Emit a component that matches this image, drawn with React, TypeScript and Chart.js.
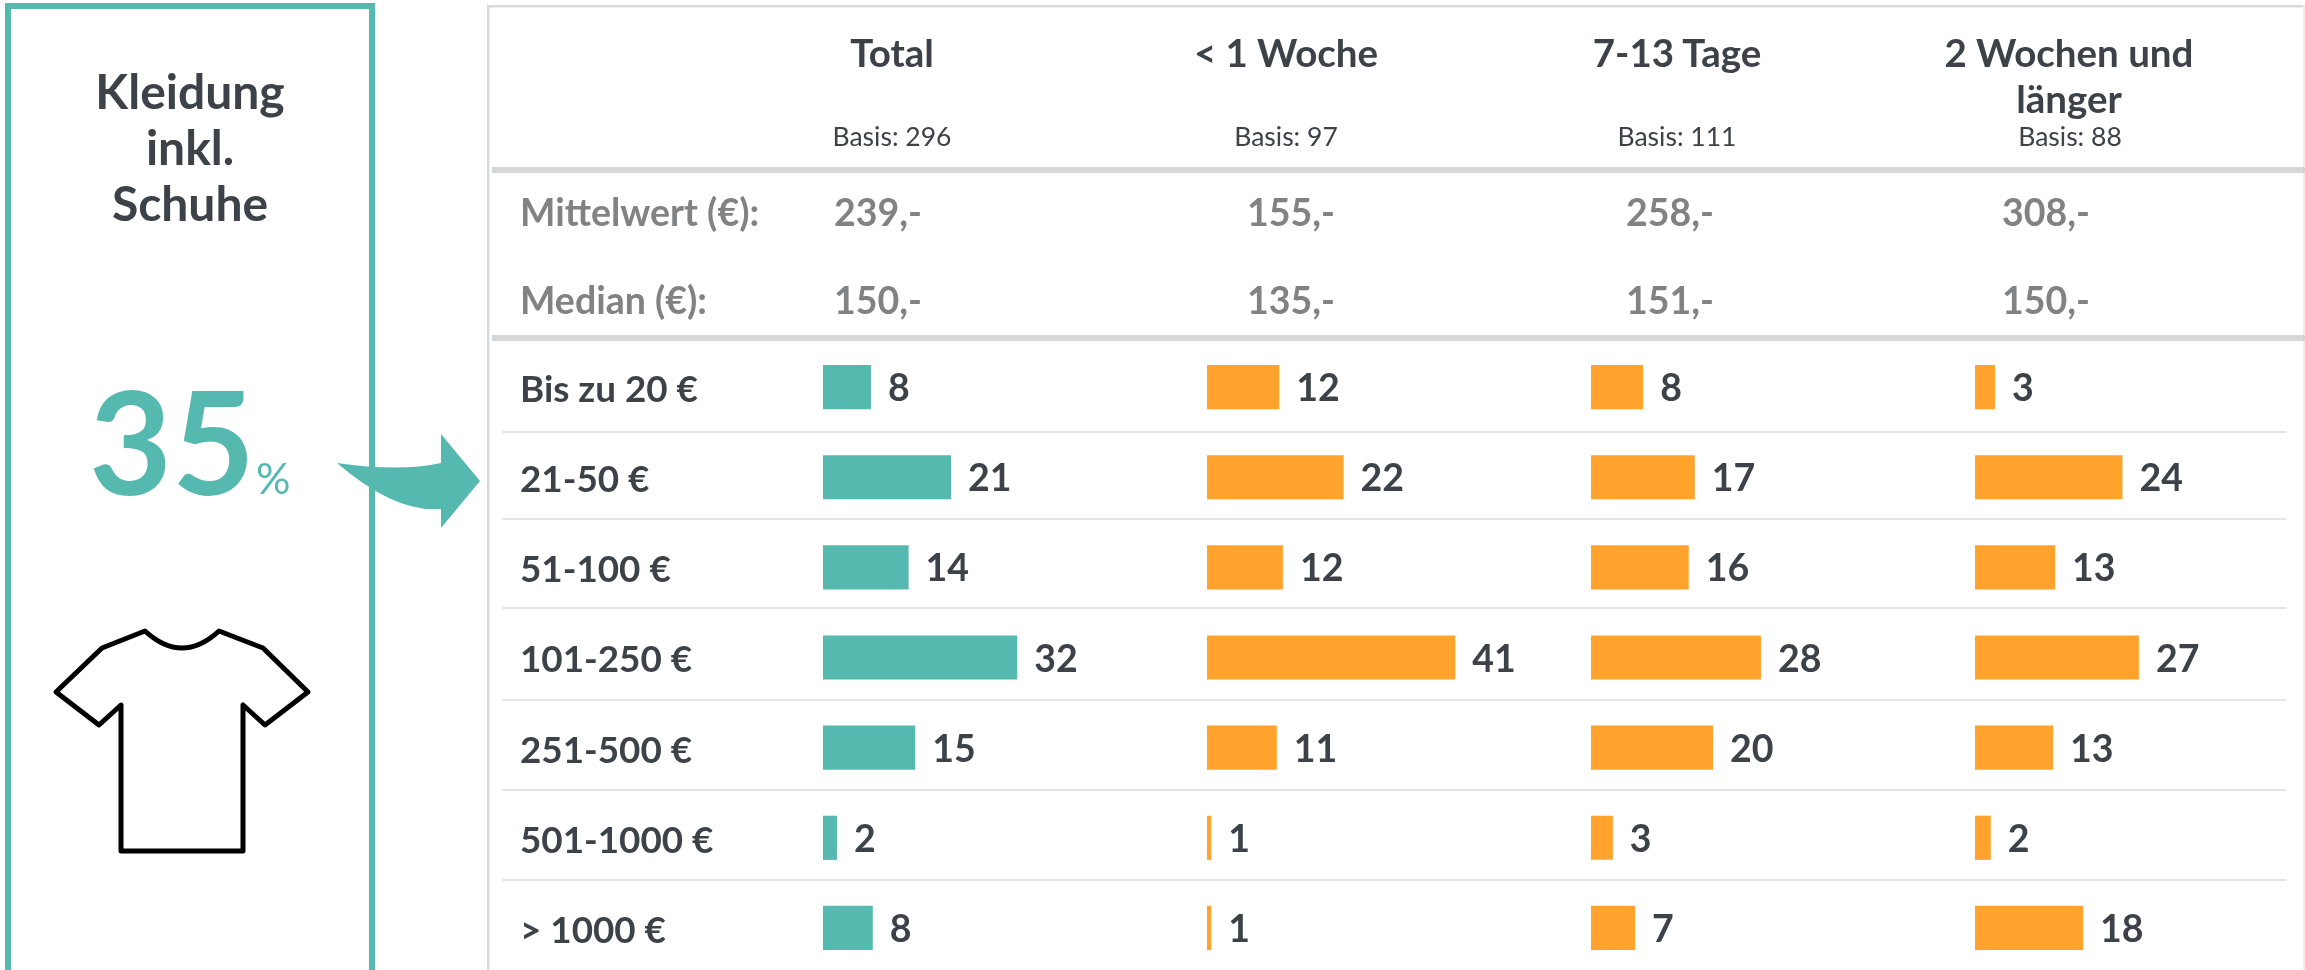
import React, { useEffect, useRef } from "react";
import { Chart, registerables } from "chart.js";

Chart.register(...registerables);

const categories = ["Bis zu 20 €", "21-50 €", "51-100 €", "101-250 €", "251-500 €", "501-1000 €", "> 1000 €"];
const totalValues = [7.9, 21.1, 14.1, 32, 15.2, 2.3, 8.2];
const under1Week = [11.9, 22.5, 12.5, 40.9, 11.5, 0.7, 0.7];
const days7to13 = [8.6, 17.1, 16.1, 28, 20.1, 3.6, 7.25];
const weeks2Plus = [3.3, 24.3, 13.2, 27, 12.85, 2.6, 17.8];
const displayLabels = [
  [8, 21, 14, 32, 15, 2, 8],
  [12, 22, 12, 41, 11, 1, 1],
  [8, 17, 16, 28, 20, 3, 7],
  [3, 24, 13, 27, 13, 2, 18],
];
const columnHeads = ["Total", "< 1 Woche", "7-13 Tage", "2 Wochen und länger"];
const basisLabels = ["Basis: 296", "Basis: 97", "Basis: 111", "Basis: 88"];
const meanLabels = ["239,-", "155,-", "258,-", "308,-"];
const medianLabels = ["150,-", "135,-", "151,-", "150,-"];

const TEAL = "#56b9b0";
const ORANGE = "#ffa32d";
const DARK = "#3c4248";
const GREY = "#808284";
const FONT = "Lato, sans-serif";

const AREA_LEFT = 823;
const AREA_WIDTH = 1482;
const COL_STEP = 384;
const PX_PER_UNIT = 6.07;
const LABEL_LEFT = 520;
const seriesList = [totalValues, under1Week, days7to13, weeks2Plus];

const axisFor = (i: number) => {
  const min = -(i * COL_STEP) / PX_PER_UNIT;
  return { type: "linear", display: false, min, max: min + AREA_WIDTH / PX_PER_UNIT, grid: { display: false } };
};

const decor = {
  id: "decor",
  beforeDraw(chart: any) {
    const c = chart.ctx;
    c.save();
    c.fillStyle = "#fff";
    c.fillRect(0, 0, 2305, 1000);
    // right panel frame and rules
    c.fillStyle = "#d8dbde";
    c.fillRect(487, 5, 2.5, 995);
    c.fillRect(487, 5, 1818, 2.5);
    c.fillStyle = "#eceded";
    c.fillRect(2303, 5, 2, 995);
    c.fillStyle = "#d4d7d9";
    c.fillRect(492, 167, 1813, 6);
    c.fillRect(492, 335, 1813, 6);
    c.fillStyle = "#e4e5e6";
    [431, 518, 607, 699, 789, 879].forEach((y) => c.fillRect(502, y, 1784, 2));
    // left box
    c.strokeStyle = TEAL;
    c.lineWidth = 6;
    c.strokeRect(8, 6, 364, 1000);
    // arrow
    c.fillStyle = TEAL;
    c.beginPath();
    c.moveTo(337, 463);
    c.quadraticCurveTo(400, 472, 441, 463);
    c.lineTo(441, 434);
    c.lineTo(480, 481);
    c.lineTo(441, 528);
    c.lineTo(441, 509);
    c.quadraticCurveTo(395, 513, 337, 463);
    c.fill();
    // T-shirt
    c.strokeStyle = "#000";
    c.lineWidth = 5;
    c.lineJoin = "round";
    c.beginPath();
    c.moveTo(145, 631);
    c.quadraticCurveTo(182, 665, 219, 631);
    c.lineTo(263, 648);
    c.lineTo(308, 692);
    c.lineTo(265, 725);
    c.lineTo(243, 705);
    c.lineTo(243, 851);
    c.lineTo(121, 851);
    c.lineTo(121, 705);
    c.lineTo(99, 725);
    c.lineTo(56, 692);
    c.lineTo(102, 648);
    c.closePath();
    c.stroke();
    c.restore();
  },
};

const valueLabels = {
  id: "valueLabels",
  afterDatasetsDraw(chart: any) {
    const c = chart.ctx;
    c.save();
    c.font = `700 37.5px ${FONT}`;
    c.fillStyle = DARK;
    c.textAlign = "left";
    c.textBaseline = "middle";
    chart.data.datasets.forEach((_: any, di: number) => {
      chart.getDatasetMeta(di).data.forEach((bar: any, i: number) => {
        c.fillText(String(displayLabels[di][i]), bar.x + 17, bar.y + 2);
      });
    });
    c.restore();
  },
};

const cell = (text: string, left: number, top: number, width: number, style: React.CSSProperties = {}) => (
  <div
    key={text + left + top}
    style={{
      position: "absolute",
      left,
      top,
      width,
      textAlign: "center",
      fontFamily: FONT,
      fontWeight: 700,
      color: DARK,
      ...style,
    }}
  >
    {text}
  </div>
);

const headCenters = [892, 1286, 1677, 2069];
const basisCenters = [892, 1286, 1677, 2070];
const statCenters = [878, 1291, 1670, 2046];

export default function App() {
  const ref = useRef<HTMLCanvasElement>(null);
  useEffect(() => {
    document.body.style.margin = "0";
    const chart = new Chart(ref.current!, {
      type: "bar",
      data: {
        labels: categories,
        datasets: seriesList.map((data, i) => ({
          label: columnHeads[i],
          data,
          xAxisID: "x" + i,
          yAxisID: "y",
          backgroundColor: i === 0 ? TEAL : ORANGE,
          categoryPercentage: 1,
          barPercentage: 0.49,
          grouped: false,
        })),
      } as any,
      plugins: [decor, valueLabels],
      options: {
        indexAxis: "y",
        animation: false,
        responsive: false,
        layout: { padding: { left: LABEL_LEFT, right: 0, top: 342, bottom: 27 } },
        plugins: { legend: { display: false }, tooltip: { enabled: false }, title: { display: false } },
        scales: {
          x0: axisFor(0),
          x1: axisFor(1),
          x2: axisFor(2),
          x3: axisFor(3),
          y: {
            position: "left",
            border: { display: false },
            grid: { display: false },
            afterFit: (s: any) => {
              s.width = AREA_LEFT - LABEL_LEFT;
            },
            ticks: { crossAlign: "far", labelOffset: 3, color: DARK, font: { family: FONT, size: 36.8, weight: "700" } },
          },
        },
      } as any,
    });
    return () => chart.destroy();
  }, []);

  return (
    <div style={{ position: "absolute", left: 0, top: 0, width: 2305, height: 970, overflow: "hidden", background: "#fff" }}>
      <canvas ref={ref} width={2305} height={1000} style={{ position: "absolute", left: 0, top: 0, display: "block" }} />
      {cell("Kleidung", 0, 63, 380, { fontSize: 48, lineHeight: "56px" })}
      {cell("inkl.", 0, 119, 380, { fontSize: 48, lineHeight: "56px" })}
      {cell("Schuhe", 0, 175, 380, { fontSize: 48, lineHeight: "56px" })}
      <div style={{ position: "absolute", left: 89, top: 360, fontFamily: FONT, fontWeight: 700, fontSize: 143, lineHeight: "160px", color: TEAL }}>35</div>
      <div style={{ position: "absolute", left: 256, top: 453, fontFamily: FONT, fontWeight: 400, fontSize: 43, lineHeight: "50px", color: TEAL }}>%</div>
      {columnHeads.map((h, i) => cell(h, headCenters[i] - 140, 29, 280, { fontSize: 38.5, lineHeight: "46px" }))}
      {basisLabels.map((h, i) => cell(h, basisCenters[i] - 140, 121, 280, { fontSize: 26.5, lineHeight: "30px", fontWeight: 400 }))}
      {cell("Mittelwert (€):", 520, 190, 320, { fontSize: 37.5, lineHeight: "44px", color: GREY, textAlign: "left" })}
      {cell("Median (€):", 520, 278, 320, { fontSize: 37.5, lineHeight: "44px", color: GREY, textAlign: "left" })}
      {meanLabels.map((h, i) => cell(h, statCenters[i] - 140, 190, 280, { fontSize: 37.5, lineHeight: "44px", color: GREY }))}
      {medianLabels.map((h, i) => cell(h, statCenters[i] - 140, 278, 280, { fontSize: 37.5, lineHeight: "44px", color: GREY }))}
    </div>
  );
}
